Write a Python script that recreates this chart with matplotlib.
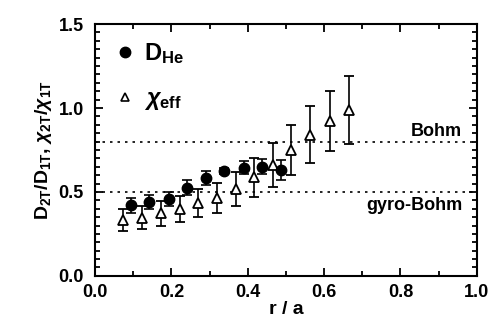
import matplotlib
matplotlib.use('Agg')
import matplotlib.pyplot as plt
from matplotlib.lines import Line2D
from matplotlib.ticker import MultipleLocator, FormatStrFormatter

plt.rcParams['font.family'] = ['Liberation Sans', 'DejaVu Sans']
plt.rcParams['font.weight'] = 'bold'
plt.rcParams['mathtext.fontset'] = 'custom'
plt.rcParams['mathtext.rm'] = 'Liberation Sans:bold'
plt.rcParams['mathtext.bf'] = 'Liberation Sans:bold'
plt.rcParams['mathtext.it'] = 'Liberation Sans:italic:bold'

# D_He (filled circles)
r_he = [0.093, 0.142, 0.193, 0.242, 0.291, 0.339, 0.389, 0.437, 0.486]
d_he = [0.42, 0.44, 0.458, 0.526, 0.585, 0.625, 0.645, 0.65, 0.63]
d_he_err = [0.045, 0.04, 0.04, 0.047, 0.042, 0.02, 0.038, 0.045, 0.06]

# chi_eff (open triangles)
r_chi = [0.073, 0.123, 0.173, 0.222, 0.27, 0.319, 0.369, 0.416, 0.465,
         0.514, 0.563, 0.615, 0.665]
chi = [0.333, 0.347, 0.373, 0.40, 0.433, 0.462, 0.518, 0.587, 0.66,
       0.75, 0.84, 0.923, 0.988]
chi_err = [0.065, 0.07, 0.076, 0.077, 0.084, 0.09, 0.10, 0.116, 0.13,
           0.147, 0.17, 0.18, 0.2]

bohm = 0.8
gyro_bohm = 0.5

fig = plt.figure(figsize=(5.03, 3.3), dpi=100)
ax = fig.add_axes([0.189, 0.164, 0.759, 0.763])

ax.axhline(bohm, color='black', ls=(0, (1.5, 3)), lw=1.2)
ax.axhline(gyro_bohm, color='black', ls=(0, (1.5, 3)), lw=1.2)

ax.errorbar(r_chi, chi, yerr=chi_err, fmt='^', ms=7, mfc='white', mec='black',
            mew=1.3, ecolor='black', elinewidth=1.2, capsize=3.5, capthick=1.2)
ax.errorbar(r_he, d_he, yerr=d_he_err, fmt='o', ms=7.5, mfc='black', mec='black',
            ecolor='black', elinewidth=1.2, capsize=3.5, capthick=1.2)

ax.text(0.962, 0.86, 'Bohm', ha='right', va='center', fontsize=13, fontweight='bold')
ax.text(0.962, 0.42, 'gyro-Bohm', ha='right', va='center', fontsize=13, fontweight='bold')

handles = [
    Line2D([], [], ls='none', marker='o', ms=7.5, mfc='black', mec='black'),
    Line2D([], [], ls='none', marker='^', ms=6, mfc='white', mec='black', mew=1.2),
]
labels = [r'D$_{\mathbf{He}}$', r'$\chi_{\mathbf{eff}}$']
ax.legend(handles, labels, loc='upper left', frameon=False, fontsize=17,
          handlelength=0.8, handletextpad=0.4, labelspacing=0.9,
          borderaxespad=0.0, bbox_to_anchor=(0.03, 0.97))

ax.set_xlim(0, 1.0)
ax.set_ylim(0, 1.5)
ax.xaxis.set_major_locator(MultipleLocator(0.2))
ax.xaxis.set_minor_locator(MultipleLocator(0.1))
ax.yaxis.set_major_locator(MultipleLocator(0.5))
ax.yaxis.set_minor_locator(MultipleLocator(0.05))
ax.xaxis.set_major_formatter(FormatStrFormatter('%.1f'))
ax.yaxis.set_major_formatter(FormatStrFormatter('%.1f'))
ax.tick_params(which='both', direction='in', top=True, right=True, width=1.3)
ax.tick_params(which='major', length=6, labelsize=13)
ax.tick_params(which='minor', length=3.5)
ax.tick_params(axis='y', which='major', pad=8)
ax.tick_params(axis='x', which='major', pad=6)
for s in ax.spines.values():
    s.set_linewidth(1.5)
for lab in ax.get_xticklabels() + ax.get_yticklabels():
    lab.set_fontweight('bold')

ax.set_xlabel('r / a', fontsize=14, fontweight='bold', labelpad=0)
ax.set_ylabel(r'D$_{\mathbf{2T}}$/D$_{\mathbf{1T}}$, $\chi_{\mathbf{2T}}$/$\chi_{\mathbf{1T}}$',
              fontsize=14, fontweight='bold', labelpad=3)

fig.savefig('out.png', dpi=100)
